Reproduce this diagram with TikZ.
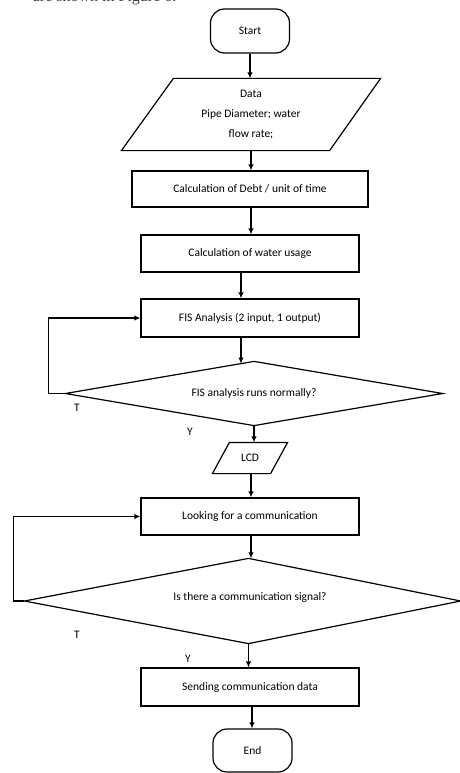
\documentclass[tikz,border=0pt]{standalone}
\usepackage{fontspec}
\setmainfont{Carlito}
\newfontfamily\serifp{Liberation Serif}
\usetikzlibrary{arrows.meta,calc}
\begin{document}
\begin{tikzpicture}[x=1pt,y=-1pt,
  line width=1.2pt,
  font=\fontsize{11.5}{20}\selectfont,
  box/.style={draw, rectangle, minimum width=218pt, minimum height=37pt, inner sep=0pt},
  term/.style={draw, rectangle, rounded corners=14pt, minimum width=79pt, minimum height=44pt, inner sep=0pt},
  hold/.style={rectangle, inner sep=0pt, align=center},
  arr/.style={-{Latex[length=6pt,width=5.5pt]}},
  lbl/.style={inner sep=0pt, font=\fontsize{11.5}{12}\selectfont}]
\useasboundingbox (0,0) rectangle (460,773);

\node[anchor=base east, inner sep=0pt, font=\serifp\fontsize{16}{16}\selectfont, text=black!75] (cap) at (177,1.5) {are shown in Figure 6.};

\node[term] (start) at (250,31) {Start};
\node[hold, minimum width=258pt, minimum height=71pt] (data) at (251,114.5) {Data\\Pipe Diameter; water\\flow rate;};
\draw ($(data.north west)+(52,0)$) -- (data.north east) -- ($(data.south east)+(-51,0)$) -- (data.south west) -- cycle;
\node[box, minimum width=236pt, minimum height=36pt] (b1) at (250,189) {Calculation of Debt / unit of time};
\node[box] (b2) at (250,253.5) {Calculation of water usage};
\node[box, minimum height=38pt] (b3) at (250,318) {FIS Analysis (2 input, 1 output)};
\node[hold, minimum width=376pt, minimum height=63pt] (dA) at (254,393.5) {FIS analysis runs normally?};
\draw (dA.north) -- (dA.east) -- (dA.south) -- (dA.west) -- cycle;
\node[hold, minimum width=74pt, minimum height=30pt] (lcd) at (250,458) {LCD};
\draw ($(lcd.north west)+(17,0)$) -- (lcd.north east) -- ($(lcd.south east)+(-17,0)$) -- (lcd.south west) -- cycle;
\node[box] (b4) at (250,516.5) {Looking for a communication};
\node[hold, minimum width=435pt, minimum height=84pt] (dB) at (242.5,601) {};
\draw ([xshift=6pt]dB.north) -- (dB.east) -- ([xshift=6pt]dB.south) -- (dB.west) -- cycle;
\node[hold] (dBtext) at (250,597) {Is there a communication signal?};
\node[box, minimum height=38pt] (b5) at (250,687) {Sending communication data};
\node[term, minimum height=43pt] (end) at (252.5,750.5) {End};

\node[lbl] (t1) at (77,408) {T};
\node[lbl] (y1) at (190,432) {Y};
\node[lbl] (t2) at (77,635) {T};
\node[lbl] (y2) at (188,659) {Y};

\draw[arr] (start.south) -- (start.south |- data.north);
\draw[arr] (data.south) -- (data.south |- b1.north);
\draw[arr] ([xshift=1pt]b1.south) -- ([xshift=1pt]b2.north);
\draw[arr] ([xshift=-9pt]b2.south) -- ([xshift=-9pt]b3.north);
\coordinate (pA) at ($(dA.north)!0.069!(dA.west)$);
\draw[arr] (pA |- b3.south) -- (pA);
\draw[arr] (dA.west) -- ++(-17,0) |- (b3.west);
\draw[arr] (dA.south) -- (dA.south |- lcd.north);
\draw[arr] ([xshift=1pt]lcd.south) -- ([xshift=1pt]b4.north);
\draw[arr] ([xshift=1pt]b4.south) -- ([xshift=1pt]b4.south |- dB.north);
\draw[arr] (dB.west) -- ++(-11,0) |- (b4.west);
\draw[arr] ([xshift=6pt]dB.south) -- ([xshift=6pt]dB.south |- b5.north);
\draw[arr] ([xshift=2pt]b5.south) -- ([xshift=2pt]b5.south |- end.north);
\end{tikzpicture}
\end{document}
